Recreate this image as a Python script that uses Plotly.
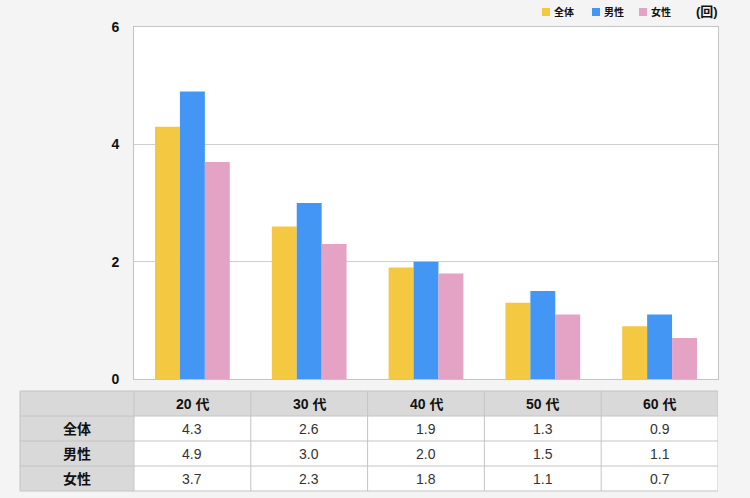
import plotly.graph_objects as go

categories = ["20 代", "30 代", "40 代", "50 代", "60 代"]
series_names = ["全体", "男性", "女性"]
all_vals = [4.3, 2.6, 1.9, 1.3, 0.9]
male_vals = [4.9, 3.0, 2.0, 1.5, 1.1]
female_vals = [3.7, 2.3, 1.8, 1.1, 0.7]
y_ticks = [0, 2, 4, 6]
unit_label = "(回)"

colors = ["#f5c842", "#4496f5", "#e4a3c4"]
series_vals = [all_vals, male_vals, female_vals]

W, H = 750, 498
FONT = "Liberation Sans, Noto Sans CJK JP, sans-serif"
GRAY = "#d9d9d9"
LINE = "#c4c4c4"


def py(p):
    return 1 - p / H


def px(p):
    return p / W


fig = go.Figure()
for name, vals, c in zip(series_names, series_vals, colors):
    fig.add_trace(go.Bar(x=categories, y=vals, name=name, showlegend=False,
                         marker=dict(color=c, line=dict(width=0))))

shapes = []
annotations = []


def ann(text, x, y, xref="paper", xanchor="center", size=14, color="#111111"):
    annotations.append(dict(text=text, x=x, xref=xref, y=y, yref="paper", xanchor=xanchor,
                            yanchor="middle", showarrow=False, font=dict(size=size, color=color)))


# ---- table (drawn below the plot, aligned with the category axis) ----
t_top, row_h = 391, 25
n_rows = 1 + len(series_names)
t_bot = t_top + row_h * n_rows
tx0, tx1 = 20, 134  # row-label column in pixels

shapes.append(dict(type="rect", xref="paper", yref="paper", x0=px(tx0), x1=px(718),
                   y0=py(t_bot), y1=py(t_top), fillcolor="white", line=dict(width=0), layer="below"))
shapes.append(dict(type="rect", xref="paper", yref="paper", x0=px(tx0), x1=px(718),
                   y0=py(t_top + row_h), y1=py(t_top), fillcolor=GRAY, line=dict(width=0), layer="below"))
shapes.append(dict(type="rect", xref="paper", yref="paper", x0=px(tx0), x1=px(tx1),
                   y0=py(t_bot), y1=py(t_top), fillcolor=GRAY, line=dict(width=0), layer="below"))
for r in range(n_rows + 1):
    yy = py(t_top + r * row_h)
    shapes.append(dict(type="line", xref="paper", yref="paper", x0=px(tx0), x1=px(718),
                       y0=yy, y1=yy, line=dict(color=LINE, width=1)))
for xx in (tx0, tx1):
    shapes.append(dict(type="line", xref="paper", yref="paper", x0=px(xx), x1=px(xx),
                       y0=py(t_bot), y1=py(t_top), line=dict(color=LINE, width=1)))
for i in range(len(categories)):
    xb = i + 0.5
    shapes.append(dict(type="line", xref="x", yref="paper", x0=xb, x1=xb,
                       y0=py(t_bot), y1=py(t_top), line=dict(color=LINE, width=1)))

for cat in categories:
    ann("<b>" + cat + "</b>", cat, py(t_top + row_h / 2), xref="x")
for r, (name, vals) in enumerate(zip(series_names, series_vals)):
    yc = py(t_top + row_h * (r + 1) + row_h / 2)
    ann("<b>" + name + "</b>", px((tx0 + tx1) / 2), yc)
    for cat, v in zip(categories, vals):
        ann(f"{v:.1f}", cat, yc, xref="x", color="#333333")

# ---- legend ----
leg_x = [542, 592, 639]
leg_y = 12
for x0, name, c in zip(leg_x, series_names, colors):
    shapes.append(dict(type="rect", xref="paper", yref="paper", x0=px(x0), x1=px(x0 + 8),
                       y0=py(leg_y + 4), y1=py(leg_y - 4), fillcolor=c, line=dict(width=0)))
    ann("<b>" + name + "</b>", px(x0 + 10), py(leg_y), xanchor="left", size=10)
ann("<b>" + unit_label + "</b>", px(707), py(leg_y), size=13)

fig.update_layout(
    width=W, height=H,
    margin=dict(l=0, r=0, t=0, b=0, autoexpand=False),
    paper_bgcolor="#f4f4f4",
    plot_bgcolor="white",
    barmode="group", bargap=0.36, bargroupgap=0,
    font=dict(family=FONT, size=12, color="#111111"),
    showlegend=False,
    xaxis=dict(domain=[px(134), px(718)], range=[-0.5, len(categories) - 0.5], showticklabels=False,
               showgrid=False, showline=True, linecolor=LINE, mirror=True, ticks=""),
    yaxis=dict(domain=[py(379), py(27)], range=[0, 6], tickvals=y_ticks,
               ticktext=[f"<b>{t}</b>" for t in y_ticks],
               showgrid=True, gridcolor="#cfcfcf", showline=True, linecolor=LINE, mirror=True,
               ticks="outside", ticklen=11, tickcolor="rgba(0,0,0,0)",
               tickfont=dict(size=14, color="#111111"), zeroline=False),
    shapes=shapes,
    annotations=annotations,
)

fig.write_html("out.html", config={"displayModeBar": False},
               post_script="document.body.style.margin='0';document.body.style.overflow='hidden';")
